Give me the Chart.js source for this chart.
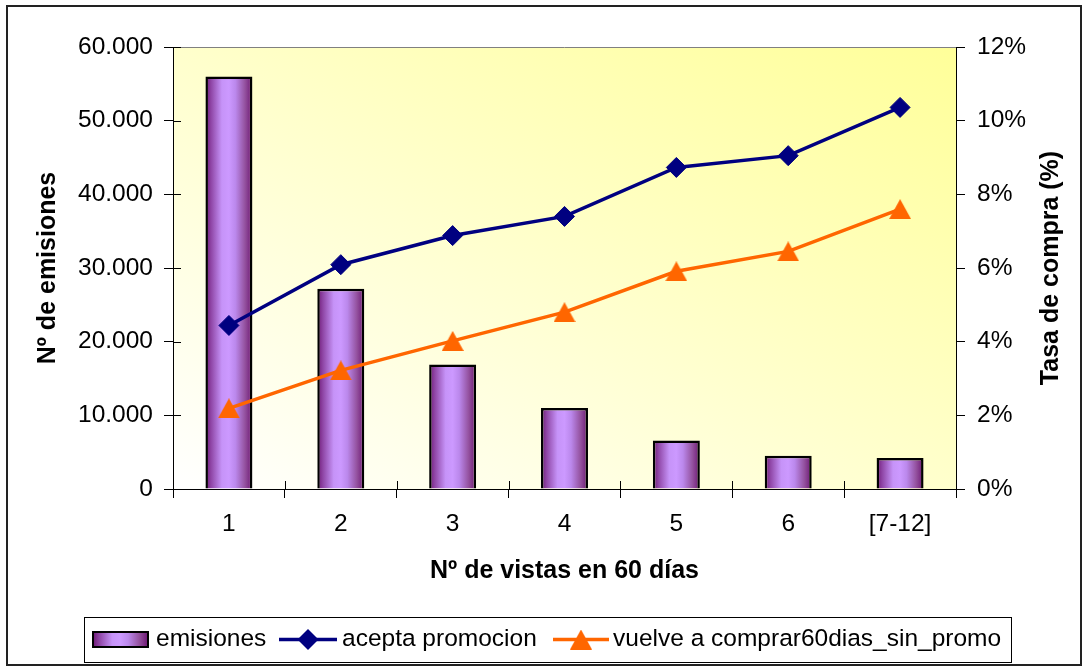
<!DOCTYPE html>
<html lang="es">
<head>
<meta charset="utf-8">
<title>Nº de emisiones y tasa de compra por Nº de vistas en 60 días</title>
<script src="https://cdn.jsdelivr.net/npm/chart.js@4.4.1/dist/chart.umd.min.js"></script>
<style>
  html, body { margin: 0; padding: 0; background: #fff; }
  canvas { display: block; }
</style>
</head>
<body>
<canvas id="chart" width="1087" height="666"></canvas>
<script>
// ---- data ----
const categories = ['1', '2', '3', '4', '5', '6', '[7-12]'];
const emisiones = [56000, 27200, 16900, 11000, 6600, 4500, 4200];
const aceptaPromocion = [0.0444, 0.0609, 0.0688, 0.0740, 0.0873, 0.0905, 0.1036];
const vuelveComprar = [0.0219, 0.0322, 0.0402, 0.0480, 0.0591, 0.0645, 0.0760];
const seriesNames = ['emisiones', 'acepta promocion', 'vuelve a comprar60dias_sin_promo'];
const axisTitles = { x: 'Nº de vistas en 60 días', y: 'Nº de emisiones', y1: 'Tasa de compra (%)' };
const leftTicks = { min: 0, max: 60000, step: 10000 };
const rightTicks = { min: 0, max: 0.12, step: 0.02 };

// ---- styling ----
const FONT = "'Liberation Sans', Arial, sans-serif";
const TEXT_SIZE = 24.5;
const TITLE_SIZE = 25;
const BLUE = '#000080';
const ORANGE = '#FF6600';
const BAR_PCT = 0.42;

function fmtMiles(v) {
  return String(Math.round(v)).replace(/\B(?=(\d{3})+(?!\d))/g, '.');
}

// purple cylinder-like shading across one bar
function barGradient(ctx, x0, x1) {
  const g = ctx.createLinearGradient(x0, 0, x1, 0);
  g.addColorStop(0.00, '#6e1875');
  g.addColorStop(0.12, '#8f46a6');
  g.addColorStop(0.35, '#c693f8');
  g.addColorStop(0.50, '#cc99ff');
  g.addColorStop(0.64, '#bb88ec');
  g.addColorStop(0.84, '#94529f');
  g.addColorStop(1.00, '#6c1572');
  return g;
}

// triangle marker, centred in its own box
function triangleMarker(w, h, color) {
  const c = document.createElement('canvas');
  c.width = w; c.height = h;
  const g = c.getContext('2d');
  g.fillStyle = color;
  g.beginPath();
  g.moveTo(w / 2, 0);
  g.lineTo(w, h);
  g.lineTo(0, h);
  g.closePath();
  g.fill();
  return c;
}
const triMark = triangleMarker(22, 20, ORANGE);

function drawDiamond(ctx, x, y, r, color) {
  ctx.fillStyle = color;
  ctx.beginPath();
  ctx.moveTo(x - r, y);
  ctx.lineTo(x, y - r);
  ctx.lineTo(x + r, y);
  ctx.lineTo(x, y + r);
  ctx.closePath();
  ctx.fill();
}

// plot background, frame, inner tick halves, axis titles and legend
const decor = {
  id: 'decor',
  beforeDraw(chart) {
    const { ctx, chartArea: a } = chart;
    ctx.save();
    ctx.fillStyle = '#fff';
    ctx.fillRect(0, 0, chart.width, chart.height);
    if (a && a.right > a.left && a.bottom > a.top) {
      // diagonal white -> yellow wash, corner to corner
      ctx.translate(a.left, a.top);
      ctx.scale(a.right - a.left, a.bottom - a.top);
      const g = ctx.createLinearGradient(0, 1, 1, 0);
      g.addColorStop(0, '#ffffff');
      g.addColorStop(1, '#ffff99');
      ctx.fillStyle = g;
      ctx.fillRect(0, 0, 1, 1);
    }
    ctx.restore();
  },
  afterDraw(chart) {
    const { ctx, chartArea: a, scales } = chart;
    ctx.save();

    // plot area top edge
    ctx.strokeStyle = '#808080';
    ctx.lineWidth = 1;
    ctx.beginPath();
    ctx.moveTo(a.left, Math.round(a.top) + 0.5);
    ctx.lineTo(a.right, Math.round(a.top) + 0.5);
    ctx.stroke();

    // inner halves of the crossing tick marks
    ctx.strokeStyle = '#000';
    ctx.beginPath();
    scales.y.ticks.forEach((t, i) => {
      const y = Math.round(scales.y.getPixelForTick(i)) + 0.5;
      ctx.moveTo(a.left, y);
      ctx.lineTo(a.left + 8, y);
    });
    const n = categories.length;
    const step = (a.right - a.left) / n;
    for (let k = 1; k < n; k++) {
      const x = Math.round(a.left + k * step) + 0.5;
      ctx.moveTo(x, a.bottom);
      ctx.lineTo(x, a.bottom - 8);
    }
    ctx.stroke();

    // axis titles
    ctx.fillStyle = '#000';
    ctx.font = `bold ${TITLE_SIZE}px ${FONT}`;
    ctx.textAlign = 'center';
    ctx.textBaseline = 'middle';
    ctx.fillText(axisTitles.x, (a.left + a.right) / 2, 571);
    const cy = (a.top + a.bottom) / 2;
    [[48, axisTitles.y], [1051, axisTitles.y1]].forEach(([x, txt]) => {
      ctx.save();
      ctx.translate(x, cy);
      ctx.rotate(-Math.PI / 2);
      ctx.fillText(txt, 0, 0);
      ctx.restore();
    });

    // legend
    const ds = chart.data.datasets;
    ctx.fillStyle = '#fff';
    ctx.fillRect(84, 617, 927, 45);
    ctx.strokeStyle = '#000';
    ctx.lineWidth = 1;
    ctx.strokeRect(84.5, 617.5, 927, 45);
    const ly = 639.5;
    ctx.font = `${TEXT_SIZE}px ${FONT}`;
    ctx.textAlign = 'left';

    ctx.fillStyle = barGradient(ctx, 93, 148);
    ctx.fillRect(93, 632, 55, 15);
    ctx.lineWidth = 2;
    ctx.strokeRect(93, 632, 55, 15);
    ctx.fillStyle = '#000';
    ctx.fillText(ds[0].label, 156, ly);

    ctx.strokeStyle = BLUE;
    ctx.lineWidth = 3.5;
    ctx.beginPath();
    ctx.moveTo(279, ly); ctx.lineTo(337, ly);
    ctx.stroke();
    drawDiamond(ctx, 308, ly, 10.5, BLUE);
    ctx.fillStyle = '#000';
    ctx.fillText(ds[1].label, 342, ly);

    ctx.strokeStyle = ORANGE;
    ctx.beginPath();
    ctx.moveTo(553, ly); ctx.lineTo(609, ly);
    ctx.stroke();
    ctx.drawImage(triMark, 581 - 11, ly - 10);
    ctx.fillStyle = '#000';
    ctx.fillText(ds[2].label, 613, ly);

    // chart frame
    ctx.strokeStyle = '#222';
    ctx.lineWidth = 2;
    ctx.strokeRect(7, 6, 1074, 659);
    ctx.restore();
  }
};

new Chart(document.getElementById('chart'), {
  data: {
    labels: categories,
    datasets: [
      {
        type: 'bar',
        label: seriesNames[0],
        data: emisiones,
        yAxisID: 'y',
        order: 10,
        barPercentage: BAR_PCT,
        categoryPercentage: 1,
        borderColor: '#000',
        borderWidth: 2.5,
        backgroundColor: (c) => {
          const xs = c.chart.scales.x;
          if (!xs || c.dataIndex === undefined) return '#b07ee0';
          const cx = xs.getPixelForValue(c.dataIndex);
          const w = xs.width / categories.length * BAR_PCT;
          if (!isFinite(cx) || !isFinite(w) || w <= 0) return '#b07ee0';
          return barGradient(c.chart.ctx, cx - w / 2, cx + w / 2);
        }
      },
      {
        type: 'line',
        label: seriesNames[1],
        data: aceptaPromocion,
        yAxisID: 'y1',
        order: 1,
        borderColor: BLUE,
        backgroundColor: BLUE,
        borderWidth: 3.5,
        tension: 0,
        pointStyle: 'rectRot',
        pointRadius: 10,
        pointBorderWidth: 1,
        pointBackgroundColor: BLUE,
        pointBorderColor: BLUE
      },
      {
        type: 'line',
        label: seriesNames[2],
        data: vuelveComprar,
        yAxisID: 'y1',
        order: 2,
        borderColor: ORANGE,
        backgroundColor: ORANGE,
        borderWidth: 3.5,
        tension: 0,
        pointStyle: triMark,
        pointRadius: 10
      }
    ]
  },
  options: {
    responsive: false,
    animation: false,
    layout: { padding: { top: 47, left: 0, right: 0, bottom: 0 } },
    plugins: { legend: { display: false }, tooltip: { enabled: false } },
    scales: {
      x: {
        type: 'category',
        offset: true,
        grid: { offset: true, drawOnChartArea: false, drawTicks: true, tickLength: 9, color: '#000', lineWidth: 1 },
        border: { color: '#000', width: 1 },
        ticks: { color: '#000', font: { family: FONT, size: TEXT_SIZE }, padding: 12, maxRotation: 0, autoSkip: false },
        afterFit(s) { s.height = 177; }
      },
      y: {
        position: 'left',
        min: leftTicks.min,
        max: leftTicks.max,
        grid: { drawOnChartArea: false, tickLength: 9, color: '#000', lineWidth: 1 },
        border: { color: '#000', width: 1 },
        ticks: {
          stepSize: leftTicks.step,
          color: '#000',
          padding: 11,
          font: { family: FONT, size: TEXT_SIZE },
          callback: (v) => fmtMiles(v)
        },
        afterFit(s) { s.width = 173; }
      },
      y1: {
        position: 'right',
        min: rightTicks.min,
        max: rightTicks.max,
        grid: { drawOnChartArea: false, tickLength: 9, color: '#000', lineWidth: 1 },
        border: { color: '#000', width: 1 },
        ticks: {
          stepSize: rightTicks.step,
          color: '#000',
          padding: 12,
          font: { family: FONT, size: TEXT_SIZE },
          callback: (v) => Math.round(v * 100) + '%'
        },
        afterFit(s) { s.width = 131; }
      }
    }
  },
  plugins: [decor]
});
</script>
</body>
</html>
